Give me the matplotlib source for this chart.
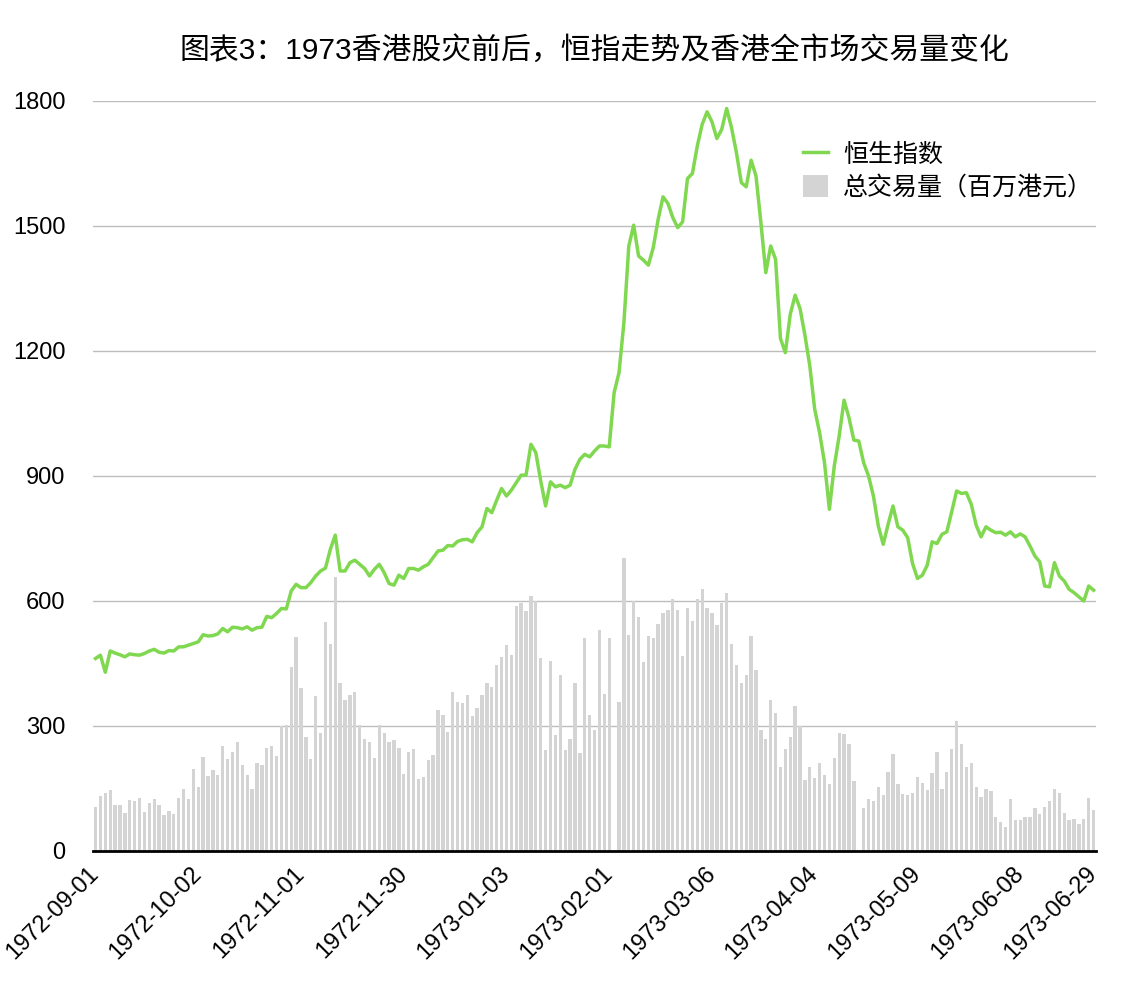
import numpy as np
import pandas as pd
import matplotlib
matplotlib.use("Agg")
import matplotlib.pyplot as plt

plt.rcParams['font.family'] = ['Liberation Sans', 'Noto Sans CJK SC', 'DejaVu Sans']

# trading days (weekdays minus exchange holidays)
holidays = ['1972-10-16', '1972-12-25', '1972-12-26', '1973-01-01', '1973-02-05',
            '1973-02-06', '1973-04-05', '1973-04-20', '1973-04-23', '1973-04-24',
            '1973-06-05']
days = pd.bdate_range('1972-09-01', '1973-06-29')
days = days[~days.isin(pd.to_datetime(holidays))]
dates = [d.strftime('%Y-%m-%d') for d in days]

hsi = [
    462, 470, 429, 480, 475, 471, 466, 473, 471, 470,
    474, 480, 484, 477, 475, 481, 480, 490, 490, 494,
    498, 502, 519, 516, 517, 521, 534, 526, 537, 536,
    533, 538, 530, 536, 537, 563, 560, 570, 582, 581,
    624, 640, 632, 632, 644, 660, 672, 679, 724, 758,
    672, 672, 692, 698, 688, 678, 660, 676, 688, 668,
    642, 638, 662, 654, 678, 678, 674, 682, 688, 704,
    720, 722, 733, 732, 743, 747, 748, 742, 764, 778,
    822, 812, 842, 870, 852, 866, 884, 902, 902, 976,
    956, 888, 828, 886, 874, 878, 872, 878, 916, 940,
    952, 946, 960, 972, 972, 970, 1100, 1148, 1268, 1452,
    1502, 1428, 1418, 1406, 1448, 1516, 1570, 1554, 1520, 1496,
    1510, 1614, 1626, 1692, 1744, 1774, 1750, 1710, 1732, 1782,
    1736, 1676, 1604, 1594, 1658, 1620, 1508, 1388, 1452, 1420,
    1230, 1196, 1288, 1334, 1302, 1238, 1164, 1060, 1004, 932,
    820, 924, 996, 1082, 1040, 986, 984, 932, 900, 852,
    780, 736, 784, 828, 778, 770, 752, 690, 654, 662,
    686, 742, 738, 760, 766, 814, 864, 858, 860, 832,
    782, 754, 778, 770, 764, 765, 758, 766, 754, 761,
    754, 732, 708, 694, 636, 634, 692, 660, 648, 628,
    620, 610, 600, 636, 626,
]

nan = np.nan
volume = [
    106, 132, 139, 146, 110, 110, 90, 122, 120, 127,
    94, 115, 125, 110, 86, 96, 89, 127, 149, 125,
    197, 154, 226, 180, 194, 182, 252, 221, 238, 262,
    206, 182, 149, 211, 206, 247, 252, 228, 300, 302,
    442, 514, 391, 274, 221, 372, 283, 550, 497, 658,
    403, 362, 374, 382, 302, 269, 262, 223, 302, 283,
    262, 266, 247, 185, 238, 245, 173, 178, 218, 230,
    338, 326, 286, 382, 358, 355, 374, 324, 343, 374,
    403, 394, 446, 466, 494, 470, 588, 595, 576, 612,
    600, 463, 242, 456, 278, 422, 242, 269, 403, 235,
    511, 326, 290, 530, 377, 511, nan, 358, 703, 518,
    600, 562, 454, 516, 511, 545, 571, 578, 605, 578,
    468, 583, 552, 605, 629, 583, 571, 542, 595, 619,
    497, 446, 403, 422, 516, 434, 290, 269, 362, 331,
    202, 245, 274, 348, 300, 170, 202, 175, 211, 182,
    161, 223, 283, 281, 257, 168, nan, 103, 125, 120,
    154, 134, 190, 233, 161, 137, 134, 139, 178, 163,
    146, 187, 238, 149, 190, 245, 312, 257, 202, 211,
    154, 130, 149, 144, 82, 70, 58, 125, 74, 74,
    82, 82, 103, 89, 106, 120, 149, 139, 91, 74,
    77, 65, 77, 127, 98,
]

title = '图表3：1973香港股灾前后，恒指走势及香港全市场交易量变化'

fig = plt.figure(figsize=(11.46, 9.98), dpi=100)
ax = fig.add_axes([0.0812, 0.1473, 0.8752, 0.7515])

x = np.arange(len(dates))
ax.bar(x, volume, width=0.68, color='#d4d4d4', label='总交易量（百万港元）', zorder=2)
ax.plot(x, hsi, color='#80d850', lw=2.5, label='恒生指数', zorder=3)

ax.set_xlim(-0.5, len(dates) - 0.5)
ax.set_ylim(0, 1800)
ax.set_yticks(np.arange(0, 1801, 300))
ax.yaxis.grid(True, color='#bdbdbd', lw=1)
ax.set_axisbelow(True)

ticks = list(range(0, len(dates), 21)) + [len(dates) - 1]
ax.set_xticks(ticks)
ax.set_xticklabels([dates[i] for i in ticks], rotation=45, ha='right',
                   va='center', rotation_mode='anchor')
ax.tick_params(axis='x', length=0, pad=14, labelsize=17)
ax.tick_params(axis='y', length=0, pad=20, labelsize=17)

for s in ['left', 'right', 'top']:
    ax.spines[s].set_visible(False)
ax.spines['bottom'].set_color('black')
ax.spines['bottom'].set_linewidth(2)

ax.legend(loc='upper left', bbox_to_anchor=(0.708, 0.945), borderaxespad=0,
          frameon=False, fontsize=18, borderpad=0, handlelength=1.0,
          handleheight=1.0, handletextpad=0.6, labelspacing=0.32)

fig.text(0.5187, 1 - 50 / 998, title, ha='center', va='center', fontsize=21.5)

fig.savefig('out.png', dpi=100)
